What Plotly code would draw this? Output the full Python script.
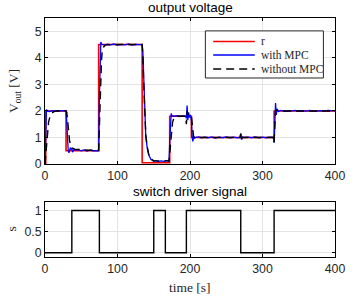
import plotly.graph_objects as go

# reference r (step changes)
t_ref = [0, 1, 29, 74, 134, 172, 202, 316, 400]
v_ref = [0, 2, 0.5, 4.5, 0.05, 1.8, 1, 2, 2]

# with MPC
t_mpc = [0, 1, 2, 3, 6, 10, 15, 20, 25, 29, 30, 31, 32, 33, 35, 36, 37, 38, 40, 43, 46, 50, 54, 58, 62, 66, 70, 74,
         75, 76, 77, 78, 82, 86, 90, 95, 100, 105, 110, 115, 120, 125, 130, 134,
         135, 136, 137, 138, 139, 141, 143, 146, 150, 153, 156, 160, 164, 168, 171,
         172, 173, 174, 175, 178, 182, 186, 190, 194, 195, 196, 197, 198, 199, 200, 201,
         202, 203, 204, 205, 206, 208, 212, 216, 220, 225, 230, 235, 240, 245, 250, 255, 260, 265, 269,
         270, 271, 272, 275, 280, 285, 290, 295, 300, 305, 310, 315,
         316, 317, 318, 319, 320, 322, 325, 330, 335, 340, 345, 350, 355, 360, 365, 370, 375, 380, 385, 390, 395, 400]
v_mpc = [0, 1.2, 2.05, 2.0, 1.98, 2.01, 1.99, 2.01, 1.99, 2.0, 1.6, 0.9, 0.5, 0.42, 0.62, 0.55, 0.6, 0.45, 0.55, 0.52, 0.54, 0.5, 0.53, 0.49, 0.52, 0.5, 0.51, 0.5,
         2.5, 4.4, 4.6, 4.52, 4.48, 4.51, 4.49, 4.52, 4.48, 4.51, 4.49, 4.52, 4.48, 4.51, 4.49, 4.5,
         4.2, 3.2, 2.2, 1.5, 1.05, 0.6, 0.35, 0.18, 0.1, 0.13, 0.09, 0.12, 0.1, 0.13, 0.1,
         0.8, 1.7, 1.9, 1.82, 1.8, 1.82, 1.79, 1.81, 1.8, 1.72, 2.2, 1.65, 1.95, 1.75, 1.85, 1.8,
         1.6, 1.0, 0.85, 1.05, 0.97, 1.0, 1.02, 0.99, 1.01, 0.99, 1.02, 0.98, 1.01, 0.99, 1.02, 0.99, 1.01, 0.99, 1.0,
         1.15, 0.92, 1.02, 1.0, 1.01, 0.99, 1.02, 0.99, 1.01, 0.99, 1.01, 1.0,
         0.8, 1.7, 2.3, 1.85, 2.08, 1.98, 2.02, 1.99, 2.01, 2.0, 2.02, 1.99, 2.01, 1.99, 2.02, 2.0, 1.99, 2.01, 1.99, 2.02, 2.0, 2.0]

# without MPC
t_nompc = [0, 1, 2, 3, 5, 7, 9, 12, 16, 29, 30, 31, 32, 33, 34, 36, 38, 41, 50, 60, 74,
           75, 76, 77, 78, 79, 81, 84, 90, 134, 135, 136, 137, 138, 139, 141, 143, 146, 150, 171,
           172, 173, 174, 175, 176, 178, 181, 194, 195, 196, 197, 198, 202, 203, 204, 205, 207,
           269, 270, 271, 272, 315, 316, 317, 318, 320, 325, 400]
v_nompc = [0, 0.3, 0.8, 1.2, 1.6, 1.8, 1.9, 1.97, 2.0, 2.0, 1.95, 1.7, 1.35, 1.05, 0.85, 0.68, 0.6, 0.56, 0.53, 0.52, 0.52,
           1.5, 2.6, 3.4, 3.95, 4.25, 4.42, 4.49, 4.5, 4.5, 4.1, 3.1, 2.2, 1.55, 1.1, 0.65, 0.38, 0.2, 0.12, 0.12,
           0.3, 0.7, 1.05, 1.35, 1.58, 1.74, 1.8, 1.8, 1.5, 2.0, 1.85, 1.8, 1.8, 1.5, 1.15, 1.02, 1.0,
           1.0, 1.15, 0.9, 1.0, 1.0, 0.8, 1.6, 2.0, 2.03, 2.0, 2.0]

# switch driver signal
t_sw = [0, 37, 75, 150, 166, 195, 270, 316, 400]
v_sw = [0, 1, 0, 1, 0, 1, 0, 1, 1]

x_ticks = [0, 100, 200, 300, 400]
legend_names = ["r", "with MPC", "without MPC"]
legend_colors = ["#ff0000", "#0000ff", "#000000"]
legend_dash = ["solid", "solid", "8px,5px"]

SANS = "Liberation Sans, Arial, sans-serif"
SERIF = "Liberation Serif, Times New Roman, serif"
TXT = "#262626"

fig = go.Figure()
fig.add_trace(go.Scatter(x=t_ref, y=v_ref, mode="lines", line_shape="hv", name=legend_names[0],
                         line=dict(color=legend_colors[0], width=1.6), xaxis="x", yaxis="y"))
fig.add_trace(go.Scatter(x=t_mpc, y=v_mpc, mode="lines", name=legend_names[1],
                         line=dict(color=legend_colors[1], width=1.3), xaxis="x", yaxis="y"))
fig.add_trace(go.Scatter(x=t_nompc, y=v_nompc, mode="lines", name=legend_names[2],
                         line=dict(color=legend_colors[2], width=1.4, dash=legend_dash[2]), xaxis="x", yaxis="y"))
fig.add_trace(go.Scatter(x=t_sw, y=v_sw, mode="lines", line_shape="hv",
                         line=dict(color="#000000", width=1.4), xaxis="x2", yaxis="y2"))

ax_common = dict(showline=True, linecolor="black", linewidth=1, mirror="allticks",
                 ticks="inside", ticklen=3, tickcolor="black", showgrid=True,
                 gridcolor="#e3e3e3", gridwidth=1, zeroline=False,
                 tickfont=dict(family=SANS, size=12.3, color=TXT))

# legend box drawn in the upper panel (paper coordinates)
shapes = [dict(type="rect", xref="paper", yref="paper", x0=0.553, x1=0.96, y0=0.749, y1=0.946,
               fillcolor="white", line=dict(color=TXT, width=1), layer="above")]
annotations = []
leg_y = [0.9017, 0.8452, 0.7866]
for name, col, dsh, yy in zip(legend_names, legend_colors, legend_dash, leg_y):
    shapes.append(dict(type="line", xref="paper", yref="paper", x0=0.58, x1=0.7233, y0=yy, y1=yy,
                       line=dict(color=col, width=1.4, dash=dsh), layer="above"))
    annotations.append(dict(text=name, xref="paper", yref="paper", x=0.737, y=yy, xanchor="left",
                            yanchor="middle", showarrow=False,
                            font=dict(family=SERIF, size=11.5, color=TXT)))

annotations += [
    dict(text="output voltage", xref="paper", yref="paper", x=0.5, y=1, yshift=1,
         xanchor="center", yanchor="bottom", showarrow=False,
         font=dict(family=SANS, size=13.5, color="black")),
    dict(text="switch driver signal", xref="paper", yref="paper", x=0.5, y=0.23, yshift=1,
         xanchor="center", yanchor="bottom", showarrow=False,
         font=dict(family=SANS, size=13.5, color="black")),
    dict(text="V<sub>out</sub> [V]", xref="paper", yref="paper", x=0, xshift=-31, y=0.6945,
         xanchor="center", yanchor="middle", textangle=-90, showarrow=False,
         font=dict(family=SERIF, size=13.5, color=TXT)),
    dict(text="s", xref="paper", yref="paper", x=0, xshift=-33, y=0.115,
         xanchor="center", yanchor="middle", textangle=-90, showarrow=False,
         font=dict(family=SERIF, size=13.5, color=TXT)),
    dict(text="time [s]", xref="paper", yref="paper", x=0.5, y=0, yshift=-21,
         xanchor="center", yanchor="top", showarrow=False,
         font=dict(family=SERIF, size=13.5, color=TXT)),
]

fig.update_layout(
    width=356, height=296,
    margin=dict(l=45, r=11, t=18, b=39),
    paper_bgcolor="white", plot_bgcolor="white",
    showlegend=False,
    hovermode=False,
    xaxis=dict(domain=[0, 1], range=[0, 400], tickvals=x_ticks, anchor="y", **ax_common),
    yaxis=dict(domain=[0.389, 1], range=[0, 5.5], tickvals=[0, 1, 2, 3, 4, 5], anchor="x", **ax_common),
    xaxis2=dict(domain=[0, 1], range=[0, 400], tickvals=x_ticks, anchor="y2", **ax_common),
    yaxis2=dict(domain=[0, 0.23], range=[-0.1, 1.2], tickvals=[0, 0.5, 1], anchor="x2", **ax_common),
    shapes=shapes,
    annotations=annotations,
)

fig.write_html("out.html", config={"displayModeBar": False},
               post_script="document.body.style.margin='0';document.body.style.overflow='hidden';")
